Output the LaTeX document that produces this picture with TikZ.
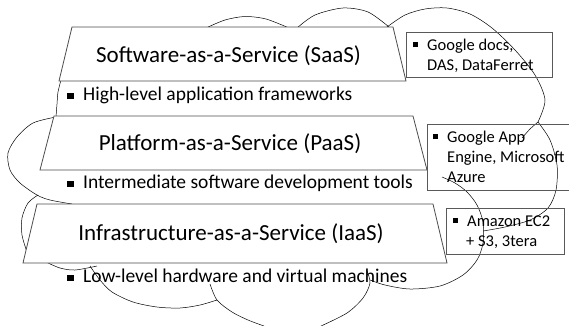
\documentclass[tikz,border=0pt]{standalone}
\usepackage{fontspec}
\setmainfont{Carlito}
\usepackage{tikz}
\newcommand{\servicelayer}[5] % {x gauche}{x droite}{y haut}{y bas}{decalage}
{
	\draw [layerline, fill=white] (#1,#3) -- (#2,#3) -- (#2+#5,#4) -- (#1-#5,#4) -- cycle;
}
\newcommand{\sqbullet}[2]{\rule[#2]{#1}{#1}} % {taille}{hauteur}
\tikzset{
	layerline/.style={line width=0.8pt, draw=black!70},
	boxline/.style={line width=0.7pt, draw=black!65},
	cloudline/.style={line width=0.5pt},
	layertitle/.style={inner sep=0pt, font=\fontsize{23}{27}\selectfont},
	rowtext/.style={inner sep=0pt, font=\fontsize{19.5}{23}\selectfont},
	extext/.style={inner sep=0pt, align=left, font=\fontsize{16.5}{20}\selectfont},
}

\begin{document}
\begin{tikzpicture}[x=1pt, y=-1pt]
	\useasboundingbox (0,0) rectangle (569,325);

	% nuage
	\draw [cloudline] plot [smooth] coordinates {(206,28) (225,20) (245,16.5) (266,19) (289,28)};
	\draw [cloudline] plot [smooth] coordinates {(297,28) (315,15) (343,8) (368,12) (389,27)};
	\draw [cloudline] plot [smooth] coordinates {(387,27) (405,15) (425,9) (447,8) (470,14) (492,28) (515,50) (535,75) (545,100) (538,122)};
	\draw [cloudline] plot [smooth] coordinates {(538,122) (530,129) (522,138)};
	\draw [cloudline] plot [smooth] coordinates {(538,122) (550,140) (557,165) (556,190) (548,208) (530,220) (505,227) (483,231)};
	\draw [cloudline] plot [smooth] coordinates {(442,177) (455,183) (467,192) (477,205) (483,222) (483,243) (477,260) (463,275) (440,286) (410,289) (385,285) (370,280)};
	\draw [cloudline] plot [smooth] coordinates {(367,271) (370,283) (363,298) (347,313) (321,326)};
	\draw [cloudline] plot [smooth] coordinates {(210,284) (217,300) (232,312) (248,320) (264,326)};
	\draw [cloudline] plot [smooth] coordinates {(90,266) (100,280) (112,292) (133,302) (157,307) (180,308) (200,305) (217,300)};
	\draw [cloudline] plot [smooth] coordinates {(46,262) (60,268) (75,270) (97,266)};
	\draw [cloudline] plot [smooth] coordinates {(61,80) (58,92) (57,104) (56,117)};
	\draw [cloudline] plot [smooth] coordinates {(56,117) (33,123) (17,137) (8,153) (10,170) (20,183) (37,195) (50,200) (72,204)};
	\draw [cloudline] plot [smooth] coordinates {(38,195) (28,203) (22,218) (22,235) (27,252)};

	\servicelayer{72}{393}{27}{81}{13}
	\servicelayer{54}{413}{116}{170}{14}
	\servicelayer{37}{433}{204}{263}{14}

	\draw [boxline] (406,32) rectangle (552,77);
	\draw [boxline] (569,124) -| (427,190) -- (569,190);
	\draw [boxline] (446,208) rectangle (564,254);

	\node [layertitle, anchor=base] (saas) at (228.5,62) {Software-as-a-Service (SaaS)};
	\node [layertitle, anchor=base] (paas) at (230,150) {Platform-as-a-Service (PaaS)};
	\node [layertitle, anchor=base] (iaas) at (231,240) {Infrastructure-as-a-Service (IaaS)};

	\node [rowtext, anchor=base west] (saasrow) at (67,100) {\sqbullet{6.5pt}{1pt}\hspace{9.5pt}High-level application frameworks};
	\node [rowtext, anchor=base west] (paasrow) at (67,188) {\sqbullet{6.5pt}{1pt}\hspace{9.5pt}Intermediate software development tools};
	\node [rowtext, anchor=base west] (iaasrow) at (67,282) {\sqbullet{6.5pt}{1pt}\hspace{9.5pt}Low-level hardware and virtual machines};

	\node [extext, anchor=base west] (saasex) at (413,70) {\sqbullet{5pt}{3pt}\hspace{9pt}Google docs,\\\hspace*{14pt}DAS, DataFerret};
	\node [extext, anchor=base west] (paasex) at (433,182) {\sqbullet{5pt}{3pt}\hspace{9pt}Google App\\\hspace*{14pt}Engine, Microsoft\\\hspace*{14pt}Azure};
	\node [extext, anchor=base west] (iaasex) at (453,246) {\sqbullet{5pt}{3pt}\hspace{9pt}Amazon EC2\\\hspace*{13pt}+ S3, 3tera};

\end{tikzpicture}
\end{document}
